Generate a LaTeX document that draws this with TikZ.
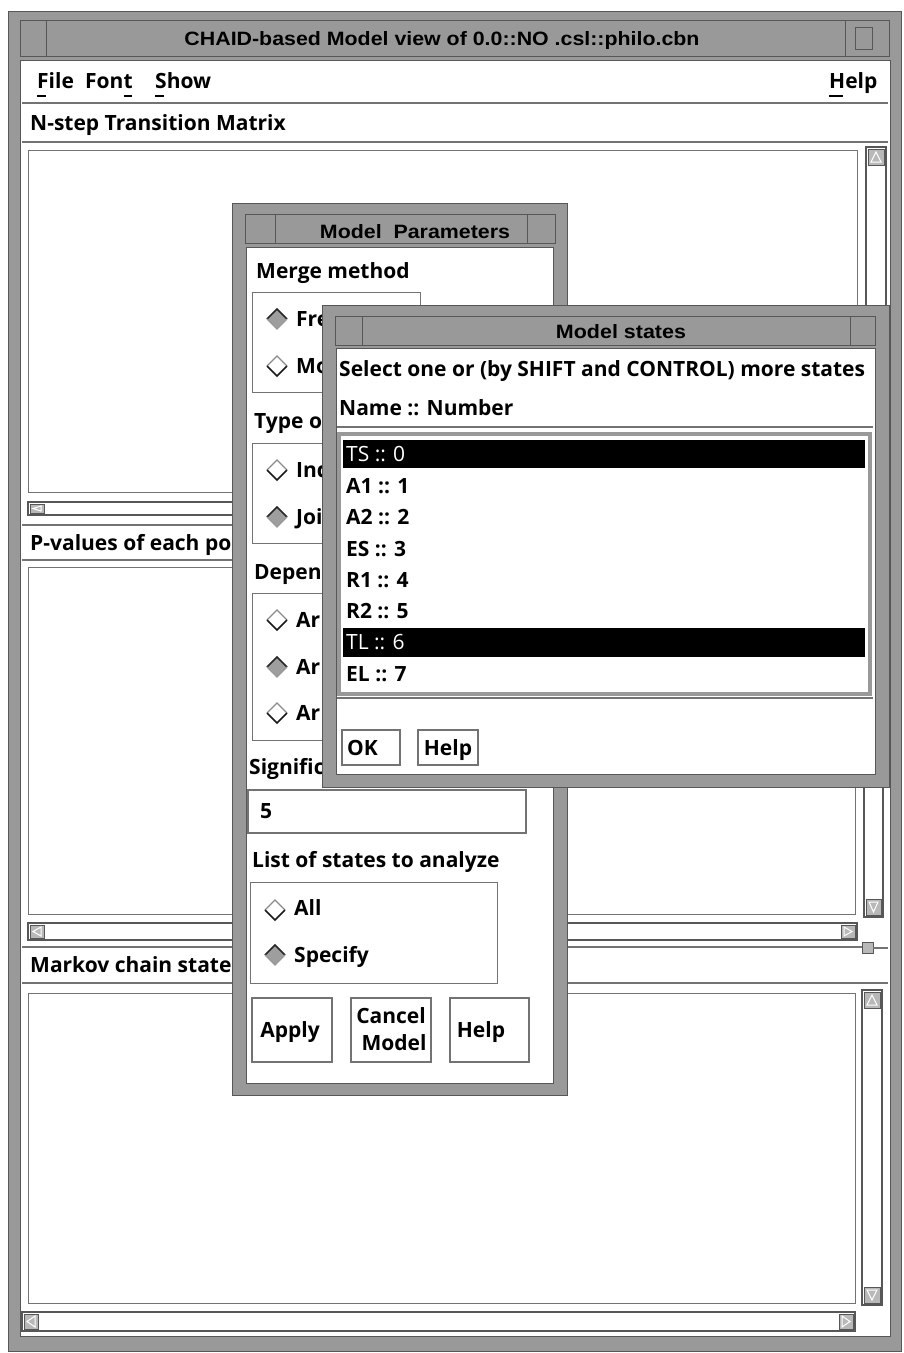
\documentclass[tikz,border=0pt]{standalone}
\usepackage{fontspec}
\usepackage{graphicx}
\setmainfont{Open Sans}
\newfontfamily\wmfont{Liberation Sans}
\usetikzlibrary{shapes.geometric}

\definecolor{wmgray}{gray}{0.60}
\definecolor{wmdark}{gray}{0.34}
\definecolor{wmlight}{gray}{0.80}
\definecolor{rulegray}{gray}{0.45}
\definecolor{radiofill}{gray}{0.62}
\definecolor{btngray}{gray}{0.72}

\tikzset{
  ui/.style={font=\fontsize{21}{24}\selectfont\bfseries, inner sep=0pt, anchor=base west},
  uiplain/.style={font=\fontsize{21}{24}\selectfont, inner sep=0pt, anchor=base west},
  uic/.style={font=\fontsize{21}{24}\selectfont\bfseries, inner sep=0pt, anchor=base},
  wintitle/.style={inner sep=0pt, anchor=base},
  sep/.style={draw=rulegray, line width=1.2pt},
  pane/.style={draw=rulegray, line width=1pt, fill=white},
  groupbox/.style={draw=rulegray, line width=1pt},
  button/.style={draw=rulegray, line width=1.2pt, fill=white},
  trough/.style={draw=wmdark, line width=1.6pt, fill=white},
  arrowbtn/.style={fill=btngray, draw=wmdark, line width=0.6pt},
  frame/.style={fill=wmgray, draw=wmdark, line width=1pt},
  radio on/.pic={
    \fill[radiofill] (0,-10) -- (10,0) -- (0,10) -- (-10,0) -- cycle;
    \draw[black!85, line width=1.6pt] (-10,0) -- (0,-10) -- (10,0);
    \draw[black!40, line width=1.2pt] (-10,0) -- (0,10) -- (10,0);
  },
  radio off/.pic={
    \fill[white] (0,-10) -- (10,0) -- (0,10) -- (-10,0) -- cycle;
    \draw[black!45, line width=1.2pt] (-10,0) -- (0,-10) -- (10,0);
    \draw[black!90, line width=1.6pt] (-10,0) -- (0,10) -- (10,0);
  },
}

% vertical scroll bar: x1 y1 x2 y2 (top-left, bottom-right)
\newcommand\drawvscroll[4]{%
  \draw[trough] (#1,#2) rectangle (#3,#4);
  \draw[arrowbtn] (#1+2,#2+2) rectangle (#3-2,#2+18);
  \draw[white, line width=1pt] (#1+5,#2+15) -- ({(#1+#3)/2},#2+5) -- (#3-5,#2+15) -- cycle;
  \draw[arrowbtn] (#1+2,#4-18) rectangle (#3-2,#4-2);
  \draw[white, line width=1pt] (#1+5,#4-15) -- ({(#1+#3)/2},#4-5) -- (#3-5,#4-15) -- cycle;
}
% horizontal scroll bar: x1 y1 x2 y2
\newcommand\drawhscroll[4]{%
  \draw[trough] (#1,#2) rectangle (#3,#4);
  \draw[arrowbtn] (#1+2,#2+2) rectangle (#1+16,#4-2);
  \draw[white, line width=1pt] (#1+13,#2+4) -- (#1+5,{(#2+#4)/2}) -- (#1+13,#4-4) -- cycle;
  \draw[arrowbtn] (#3-16,#2+2) rectangle (#3-2,#4-2);
  \draw[white, line width=1pt] (#3-13,#2+4) -- (#3-5,{(#2+#4)/2}) -- (#3-13,#4-4) -- cycle;
}

\begin{document}
\begin{tikzpicture}[x=1pt,y=-1pt]
\useasboundingbox (0,0) rectangle (903,1353);
\fill[white] (0,0) rectangle (903,1353);

% ---------------- main window ----------------
\draw[frame] (8,11) rectangle (901,1351);
\draw[wmdark, line width=1pt] (20,20) rectangle (889,56);
\draw[wmdark, line width=1pt] (46,20) -- (46,56) (845,20) -- (845,56);
\draw[wmdark, line width=0.8pt] (855,27) rectangle (872,49);
\node[wintitle] (maintitle) at (442,45)
  {\resizebox{515pt}{14pt}{\wmfont\bfseries CHAID-based Model view of 0.0::NO .csl::philo.cbn}};

\fill[white] (20,60) rectangle (890,1336);
\draw[wmdark, line width=1pt] (20,60) rectangle (890,1336);

% menu bar
\node[ui] (mfile) at (37,88) {File};
\node[ui] (mfont) at (85,88) {Font};
\node[ui] (mshow) at (155,88) {Show};
\node[ui] (mhelp) at (829,88) {Help};
\draw[line width=1.6pt] (37,96) -- (46,96) (124,96) -- (132,96) (155,96) -- (164,96) (829,96) -- (843,96);
\draw[sep, line width=2pt] (22,103) -- (888,103);

% transition matrix pane
\node[ui] (lblmatrix) at (30,130) {N-step Transition Matrix};
\draw[sep] (22,142) -- (888,142);
\draw[pane] (28,150) rectangle (857,492);
\drawvscroll{866}{147}{886}{505}
\drawhscroll{28}{502}{857}{515}
\draw[sep] (22,525) -- (888,525);

% p-values pane
\node[ui] (lblpvalues) at (30,550) {P-values of each po};
\draw[sep] (22,560) -- (888,560);
\draw[pane] (28,567) rectangle (855,914);
\drawvscroll{864}{565}{883}{917}
\drawhscroll{28}{923}{857}{940}
\draw[sep] (22,947) -- (862,947);
\draw[wmdark, line width=1pt, fill=btngray] (862,942) rectangle (873,953);
\draw[sep] (873,948) -- (888,948);

% markov chain pane
\node[ui] (lblmarkov) at (30,972) {Markov chain state};
\draw[sep] (22,983) -- (888,983);
\draw[pane] (28,993) rectangle (855,1303);
\drawvscroll{862}{990}{882}{1305}
\drawhscroll{22}{1312}{855}{1331}

% ---------------- Model Parameters dialog ----------------
\draw[frame] (232,203) rectangle (567,1095);
\draw[wmdark, line width=1pt] (245,214) rectangle (555,243);
\draw[wmdark, line width=1pt] (275,214) -- (275,243) (527,214) -- (527,243);
\node[wintitle] (paramtitle) at (415,238)
  {\resizebox{190pt}{14pt}{\wmfont\bfseries Model\ \ Parameters}};
\fill[white] (246,247) rectangle (553,1083);
\draw[wmdark, line width=1pt] (246,247) rectangle (553,1083);

\node[ui] (lblmerge) at (256,278) {Merge method};
\draw[groupbox] (252,292) rectangle (420,392);
\pic at (277,319) {radio on};
\node[ui] (optfre) at (296,326) {Fre};
\pic at (277,366) {radio off};
\node[ui] (optmo) at (296,373) {Mo};

\node[ui] (lbltype) at (254,428) {Type o};
\draw[groupbox] (252,443) rectangle (420,543);
\pic at (277,470) {radio off};
\node[ui] (optind) at (296,477) {Ind};
\pic at (277,517) {radio on};
\node[ui] (optjoi) at (296,524) {Joi};

\node[ui] (lbldep) at (254,579) {Depen};
\draw[groupbox] (252,593) rectangle (420,740);
\pic at (277,620) {radio off};
\node[ui] (optara) at (296,627) {Ar};
\pic at (277,667) {radio on};
\node[ui] (optarb) at (296,674) {Ar};
\pic at (277,713) {radio off};
\node[ui] (optarc) at (296,720) {Ar};

\node[ui] (lblsig) at (249,774) {Signific};
\draw[button] (248,790) rectangle (526,833);
\node[ui] (sigvalue) at (260,818) {5};

\node[ui] (lbllist) at (252,867) {List of states to analyze};
\draw[groupbox] (250,882) rectangle (497,983);
\pic at (275,910) {radio off};
\node[ui] (optall) at (294,915) {All};
\pic at (275,955) {radio on};
\node[ui] (optspec) at (294,962) {Specify};

\draw[button] (252,998) rectangle (332,1062);
\node[uic] (btnapply) at (290,1037) {Apply};
\draw[button] (351,998) rectangle (431,1062);
\node[uic] (btncancel) at (391,1023) {Cancel};
\node[uic] (btnmodel) at (394,1050) {Model};
\draw[button] (450,998) rectangle (529,1062);
\node[uic] (btnhelpp) at (481,1037) {Help};

% ---------------- Model states dialog ----------------
\draw[frame] (322,305) rectangle (889,787);
\draw[wmdark, line width=1pt] (335,316) rectangle (875,345);
\draw[wmdark, line width=1pt] (362,316) -- (362,345) (850,316) -- (850,345);
\node[wintitle] (statestitle) at (621,338)
  {\resizebox{130pt}{14pt}{\wmfont\bfseries Model states}};
\fill[white] (336,348) rectangle (875,774);
\draw[wmdark, line width=1pt] (336,348) rectangle (875,774);

\node[ui] (lblselect) at (339,376) {Select one or (by SHIFT and CONTROL) more states};
\node[ui] (lblname) at (339,415) {Name :: Number};
\draw[sep] (337,427) -- (873,427);
\draw[wmgray, line width=4pt, fill=white] (339,434) rectangle (870,694);
\fill[black] (343,440) rectangle (865,468);
\fill[black] (343,628) rectangle (865,657);
\node[uiplain, text=white] (st0) at (346,461) {TS :: 0};
\node[ui] (st1) at (346,493) {A1 :: 1};
\node[ui] (st2) at (346,524) {A2 :: 2};
\node[ui] (st3) at (346,556) {ES :: 3};
\node[ui] (st4) at (346,587) {R1 :: 4};
\node[ui] (st5) at (346,618) {R2 :: 5};
\node[uiplain, text=white] (st6) at (346,649) {TL :: 6};
\node[ui] (st7) at (346,681) {EL :: 7};
\draw[sep] (337,698) -- (873,698);

\draw[button] (342,730) rectangle (400,765);
\node[ui] (btnok) at (347,755) {OK};
\draw[button] (418,730) rectangle (478,765);
\node[uic] (btnhelps) at (448,755) {Help};
\end{tikzpicture}
\end{document}
